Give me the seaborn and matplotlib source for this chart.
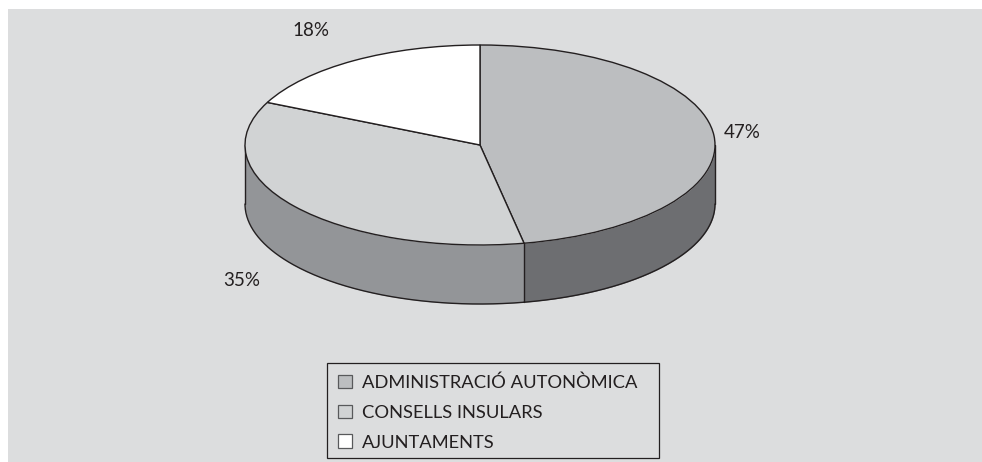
import numpy as np
import matplotlib
matplotlib.use("Agg")
import matplotlib.pyplot as plt
from matplotlib.patches import Rectangle
import seaborn as sns

categories = ["ADMINISTRACIÓ AUTONÒMICA", "CONSELLS INSULARS", "AJUNTAMENTS"]
shares = [47, 35, 18]
top_colors = ["#bcbec0", "#d1d3d4", "#ffffff"]
wall_colors = ["#6d6e71", "#939598"]
label_px = [(742, 132), (242, 280), (311, 30)]

W, H = 982, 462
CX, CY, RX, RY, DEPTH = 480, 145, 235, 100, 59
INK = "#231f20"
BG = "#dcddde"

sns.set_theme(style="white")
plt.rcParams["font.family"] = ["Lato", "DejaVu Sans"]

fig = plt.figure(figsize=(W / 100, H / 100), dpi=100, facecolor="white")

back = fig.add_axes([8 / W, 0, (W - 8) / W, (H - 9) / H])
back.set_facecolor(BG)
back.set_xticks([])
back.set_yticks([])
sns.despine(ax=back, left=True, bottom=True)

ax = fig.add_axes([0, 0, 1, 1])
ax.patch.set_alpha(0)
wedges, _ = ax.pie(
    shares,
    colors=top_colors,
    startangle=90,
    counterclock=False,
    radius=1,
    wedgeprops=dict(edgecolor=INK, linewidth=1.0),
)
ax.set_aspect("auto")
ax.set_xlim((0 - CX) / RX, (W - CX) / RX)
ax.set_ylim((CY - H) / RY, (CY - 0) / RY)
ax.set_frame_on(False)
depth = DEPTH / RY


def to_data(px, py):
    return (px - CX) / RX, (CY - py) / RY


# Side walls, clockwise from the top of the ellipse
split = np.cumsum(shares)[0] / sum(shares) * 360
spans = [(90, split), (split, 270)]
for (a0, a1), col in zip(spans, wall_colors):
    t = np.radians(np.linspace(a0, a1, 200))
    x = np.sin(t)
    y = np.cos(t)
    ax.fill_between(x, y - depth, y, color=col, lw=0, zorder=0.5)
    ax.plot(x, y - depth, color=INK, lw=1.0, zorder=0.6)
for a in (90, split, 270):
    t = np.radians(a)
    ax.plot([np.sin(t)] * 2, [np.cos(t), np.cos(t) - depth], color=INK, lw=1.0, zorder=0.6)

for val, (px, py) in zip(shares, label_px):
    lx, ly = to_data(px, py)
    ax.text(lx, ly, f"{val}%", ha="center", va="center", fontsize=13.5, color=INK)

# Legend box
fig.add_artist(Rectangle(
    (327 / W, 1 - 458.3 / H), 332 / W, 95.6 / H,
    transform=fig.transFigure, facecolor="none", edgecolor=INK, linewidth=0.9,
))

leg = ax.legend(
    wedges,
    categories,
    loc="upper left",
    bbox_to_anchor=(327.5 / W, 1 - 363.7 / H),
    bbox_transform=fig.transFigure,
    fontsize=13.2,
    frameon=False,
    handlelength=0.76,
    handleheight=0.76,
    handletextpad=0.55,
    labelspacing=0.75,
    borderpad=0.58,
    borderaxespad=0,
    labelcolor=INK,
)
for h in leg.get_patches():
    h.set_linewidth(0.9)
    h.set_edgecolor("#58595b")

fig.savefig("out.png", dpi=100, facecolor="white")
